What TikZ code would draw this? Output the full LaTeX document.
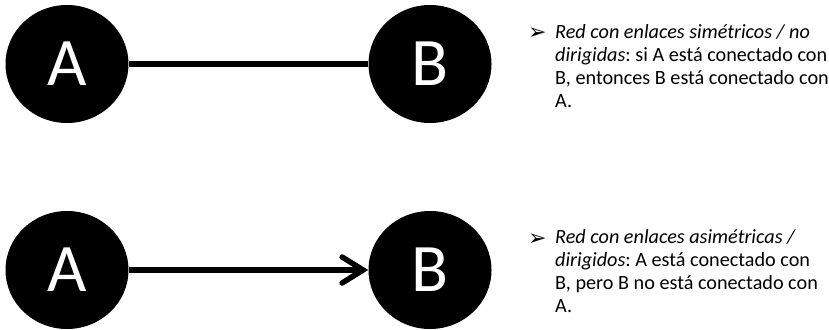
\documentclass[tikz,border=0pt]{standalone}
\usepackage{fontspec}
\setmainfont{Carlito}
\newfontfamily\dejavu{DejaVu Sans}
\usetikzlibrary{arrows.meta,shapes.geometric}
\begin{document}
\begin{tikzpicture}[x=1pt,y=-1pt,
  vertex/.style={ellipse,fill=black,minimum width=123pt,minimum height=118pt,inner sep=0pt,
    text=white,font=\fontsize{68}{68}\selectfont},
  edge/.style={line width=5.5pt},
  desc/.style={anchor=north west,inner sep=0pt,align=left,
    font=\fontsize{20.2}{23}\selectfont\frenchspacing},
  bul/.style={anchor=base west,inner sep=0pt,font=\dejavu\fontsize{22}{22}\selectfont}]
\useasboundingbox (0,0) rectangle (829,329);
\node[vertex] (a1) at (67,64) {A};
\node[vertex] (b1) at (430,64) {B};
\node[vertex] (a2) at (67,270) {A};
\node[vertex] (b2) at (430,270) {B};
\draw[edge] (a1) -- (b1);
\draw[edge,-{Straight Barb[length=21pt,width=26pt,line cap=round,line width=5.5pt]}] (a2) -- (b2);
\node[bul] (k1) at (528,40) {➢};
\node[bul] (k2) at (528,245) {➢};
\node[desc] (t1) at (555,24) {\textit{Red con enlaces simétricos / no}\\\textit{dirigidas}: si A está conectado con\\B, entonces B está conectado con\\A.};
\node[desc] (t2) at (555,229) {\textit{Red con enlaces asimétricas /}\\\textit{dirigidos}: A está conectado con\\B, pero B no está conectado con\\A.};
\end{tikzpicture}
\end{document}
